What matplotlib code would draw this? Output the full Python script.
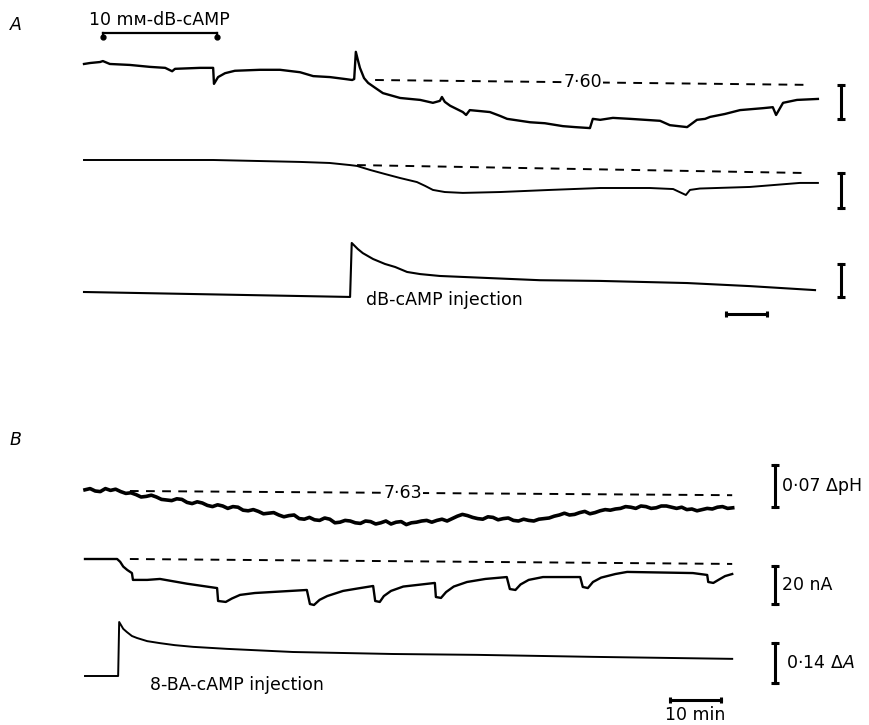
import matplotlib
matplotlib.use('Agg')
import matplotlib.pyplot as plt

plt.rcParams['font.family'] = ['DejaVu Sans']
plt.rcParams['mathtext.fontset'] = 'dejavusans'

# ---- Panel A data (time in min) ----
a_ph_t = [0, 1.5, 3.9, 4.6, 6.3, 11.2, 16.1, 19.8, 21.5, 22.2, 28.3, 31.5, 31.7, 32.7, 34.4,
          36.8, 42.9, 47.8, 52.7, 55.9, 60.0, 63.7, 65.4, 65.9, 66.3, 66.8, 67.3, 68.3, 69.3,
          71.0, 72.9, 77.1, 82.0, 85.1, 86.8, 87.3, 88.0, 89.3, 92.4, 93.2, 94.1, 96.6, 99.0,
          101.5, 103.2, 108.8, 112.4, 116.8, 119.8, 123.4, 124.1, 125.9, 129.0, 133.2, 140.5,
          142.9, 147.1, 149.5, 151.5, 152.7, 156.3, 160.0, 165.6, 168.0, 168.8, 170.5, 173.9,
          179.0]
a_ph = [7.633, 7.635, 7.637, 7.639, 7.633, 7.631, 7.627, 7.625, 7.618, 7.623, 7.625, 7.625,
        7.592, 7.606, 7.614, 7.619, 7.621, 7.621, 7.616, 7.608, 7.606, 7.602, 7.600, 7.602,
        7.658, 7.641, 7.625, 7.604, 7.594, 7.584, 7.573, 7.563, 7.559, 7.553, 7.557, 7.565,
        7.555, 7.547, 7.534, 7.528, 7.538, 7.536, 7.534, 7.526, 7.520, 7.513, 7.511, 7.505,
        7.503, 7.501, 7.520, 7.518, 7.522, 7.520, 7.516, 7.507, 7.503, 7.518, 7.520, 7.524,
        7.530, 7.538, 7.542, 7.544, 7.528, 7.553, 7.559, 7.561]
a_ph_base_t = [71.0, 176.3]
a_ph_base = [7.600, 7.590]

a_cur_t = [0, 31.5, 52.7, 59.9, 64.9, 66.6, 69.8, 73.4, 77.1, 81.2, 83.2, 85.1, 88.0, 92.4,
           101.5, 113.7, 125.9, 138.0, 143.7, 146.8, 147.8, 150.2, 162.4, 174.6, 179.0]
a_cur = [0, 0, -1.1, -1.7, -2.9, -3.4, -5.7, -8.0, -10.3, -12.6, -14.8, -17.1, -18.3, -18.8,
         -18.3, -17.1, -16.0, -16.0, -16.6, -20.0, -17.1, -16.3, -15.4, -13.1, -13.1]
a_cur_base_t = [66.6, 175.1]
a_cur_base = [-2.9, -7.4]

a_abs_t = [0, 64.9, 65.3, 66.8, 68.0, 70.5, 73.4, 75.9, 78.8, 82.0, 86.8, 99.0, 111.2, 125.9,
           147.1, 162.4, 178.3]
a_abs = [0, -0.021, 0.208, 0.182, 0.165, 0.140, 0.119, 0.106, 0.085, 0.076, 0.068, 0.059,
         0.050, 0.047, 0.038, 0.025, 0.008]

perfusion = [4.6, 32.4]  # 10 mM dB-cAMP superfusion

# ---- Panel B data ----
b_ph_t = list(range(128))
b_ph = [7.632, 7.634, 7.630, 7.629, 7.634, 7.631, 7.633, 7.629, 7.626, 7.627, 7.624, 7.620,
        7.621, 7.623, 7.620, 7.616, 7.615, 7.614, 7.617, 7.616, 7.611, 7.609, 7.612, 7.610,
        7.606, 7.604, 7.607, 7.605, 7.601, 7.604, 7.603, 7.598, 7.597, 7.599, 7.596, 7.592,
        7.593, 7.594, 7.590, 7.587, 7.589, 7.590, 7.584, 7.583, 7.586, 7.582, 7.581, 7.585,
        7.583, 7.577, 7.578, 7.581, 7.580, 7.577, 7.576, 7.580, 7.579, 7.575, 7.577, 7.580,
        7.575, 7.578, 7.579, 7.574, 7.577, 7.578, 7.580, 7.581, 7.578, 7.581, 7.583, 7.580,
        7.584, 7.588, 7.591, 7.589, 7.586, 7.584, 7.583, 7.587, 7.586, 7.582, 7.584, 7.585,
        7.581, 7.580, 7.583, 7.581, 7.580, 7.583, 7.584, 7.585, 7.588, 7.590, 7.593, 7.590,
        7.591, 7.594, 7.596, 7.592, 7.594, 7.597, 7.599, 7.598, 7.600, 7.601, 7.604, 7.603,
        7.601, 7.605, 7.604, 7.601, 7.602, 7.605, 7.605, 7.603, 7.601, 7.603, 7.599, 7.600,
        7.597, 7.599, 7.601, 7.600, 7.603, 7.604, 7.601, 7.602]
b_ph_base_t = [8.8, 126.9]
b_ph_base = [7.630, 7.623]

b_cur_t = [0, 6.3, 6.9, 7.5, 8.3, 9.2, 9.4, 12.2, 14.7, 20.0, 25.9,
           26.1, 27.6, 28.8, 30.4, 33.3, 43.5,
           44.1, 44.9, 46.0, 47.5, 50.6, 53.5, 56.5,
           56.9, 57.8, 58.6, 60.0, 62.4, 68.6,
           68.8, 69.8, 70.8, 72.3, 74.9, 78.5, 82.7,
           83.3, 84.4, 85.4, 87.0, 89.8, 97.1,
           97.6, 98.6, 99.6, 101.2, 104.0, 106.3, 119.2, 122.0,
           122.2, 123.2, 124.2, 125.5, 126.9]
b_cur = [0, 0, -1.5, -4.0, -5.8, -7.4, -11.0, -11.0, -10.5, -13.0, -15.3,
         -22.1, -22.6, -20.8, -18.9, -17.9, -16.3,
         -23.7, -24.2, -21.5, -19.5, -16.8, -15.5, -14.2,
         -22.1, -22.6, -19.5, -16.8, -14.5, -12.6,
         -20.0, -20.5, -17.4, -14.5, -12.1, -10.5, -9.5,
         -15.8, -16.3, -13.4, -11.0, -9.5, -9.5,
         -14.7, -15.3, -12.1, -9.8, -7.9, -6.8, -7.4, -8.4,
         -12.1, -12.6, -11.0, -9.0, -7.9]
b_cur_base_t = [8.8, 126.9]
b_cur_base = [0, -2.6]

b_abs_t = [0, 6.5, 6.7, 7.5, 8.2, 9.2, 10.2, 12.2, 14.7, 17.6, 21.2, 27.8, 40.8, 60.4, 76.9,
           99.6, 126.9]
b_abs = [0, 0, 0.189, 0.165, 0.154, 0.140, 0.133, 0.122, 0.115, 0.108, 0.102, 0.095, 0.084,
         0.077, 0.074, 0.067, 0.060]

W, H = 869, 725
fig = plt.figure(figsize=(W / 100, H / 100), dpi=100)


def trace_axes(top, bottom, xlim, ref_val, ref_row, per_px):
    ax = fig.add_axes([0, 1 - bottom / H, 1, (bottom - top) / H])
    ax.set_xlim(xlim)
    ax.set_ylim(ref_val - (bottom - ref_row) * per_px, ref_val + (ref_row - top) * per_px)
    ax.axis('off')
    return ax


def vbar(ax, x, y0, y1):
    ax.plot([x, x], [y0, y1], color='k', lw=2.2, marker='_', ms=6, mew=2.2)


def hbar(ax, x0, x1, y):
    ax.plot([x0, x1], [y, y], color='k', lw=2.2, marker='|', ms=4, mew=2.2)


dash = dict(color='k', lw=1.4, linestyle=(0, (4.5, 3.8)))
txt = 12.5
xa = (-84 / 4.1, (W - 84) / 4.1)
xb = (-85 / 5.1, (W - 85) / 5.1)

# ---------------- A ----------------
ax1 = trace_axes(0, 140, xa, 7.600, 80, 0.07 / 34)
ax1.plot(a_ph_t, a_ph, color='k', lw=1.7)
ax1.plot(a_ph_base_t, a_ph_base, **dash)
ax1.text(121.7, 7.595, '7·60', ha='center', va='center', fontsize=txt,
         bbox=dict(facecolor='white', edgecolor='none', pad=0.3))
vbar(ax1, 184.6, 7.520, 7.590)
ax1.plot(perfusion, [7.697, 7.697], color='k', lw=1.6)
for p in perfusion:
    ax1.plot([p, p], [7.697, 7.689], color='k', lw=1.6)
    ax1.plot([p], [7.688], 'o', color='k', ms=3.5)
ax1.text(18.3, 7.7236, '10 mм-dB-cAMP', ha='center', va='center', fontsize=txt)

ax2 = trace_axes(140, 240, xa, 0, 160, 20 / 35)
ax2.plot(a_cur_t, a_cur, color='k', lw=1.4)
ax2.plot(a_cur_base_t, a_cur_base, **dash)
vbar(ax2, 184.6, -27.4, -7.4)

ax3 = trace_axes(230, 340, xa, 0, 292, 0.14 / 33)
ax3.plot(a_abs_t, a_abs, color='k', lw=1.5)
vbar(ax3, 184.6, -0.021, 0.119)
hbar(ax3, 156.6, 166.6, -0.093)
ax3.text(68.9, -0.036, 'dB-cAMP injection', ha='left', va='center', fontsize=txt)

# ---------------- B ----------------
ax4 = trace_axes(420, 530, xb, 7.630, 491, 0.07 / 42)
ax4.plot(b_ph_t, b_ph, color='k', lw=2.6)
ax4.plot(b_ph_base_t, b_ph_base, **dash)
ax4.text(62.4, 7.627, '7·63', ha='center', va='center', fontsize=txt,
         bbox=dict(facecolor='white', edgecolor='none', pad=0.3))
vbar(ax4, 135.3, 7.603, 7.673)
ax4.text(136.6, 7.638, '0·07 ΔpH', ha='left', va='center', fontsize=txt)

ax5 = trace_axes(530, 615, xb, 0, 559, 20 / 38)
ax5.plot(b_cur_t, b_cur, color='k', lw=1.7)
ax5.plot(b_cur_base_t, b_cur_base, **dash)
vbar(ax5, 135.3, -23.7, -3.7)
ax5.text(136.6, -13.7, '20 nA', ha='left', va='center', fontsize=txt)

ax6 = trace_axes(615, 725, xb, 0, 676, 0.14 / 40)
ax6.plot(b_abs_t, b_abs, color='k', lw=1.4)
vbar(ax6, 135.3, -0.0245, 0.1155)
ax6.text(137.4, 0.0455, '0·14 Δ$A$', ha='left', va='center', fontsize=txt)
hbar(ax6, 114.7, 124.7, -0.084)
ax6.text(119.7, -0.137, '10 min', ha='center', va='center', fontsize=txt)
ax6.text(12.7, -0.0315, '8-BA-cAMP injection', ha='left', va='center', fontsize=txt)

fig.text(10 / W, 1 - 25 / H, 'A', style='italic', fontsize=12.5, ha='left', va='center')
fig.text(10 / W, 1 - 440 / H, 'B', style='italic', fontsize=12.5, ha='left', va='center')

fig.savefig('out.png', dpi=100)
